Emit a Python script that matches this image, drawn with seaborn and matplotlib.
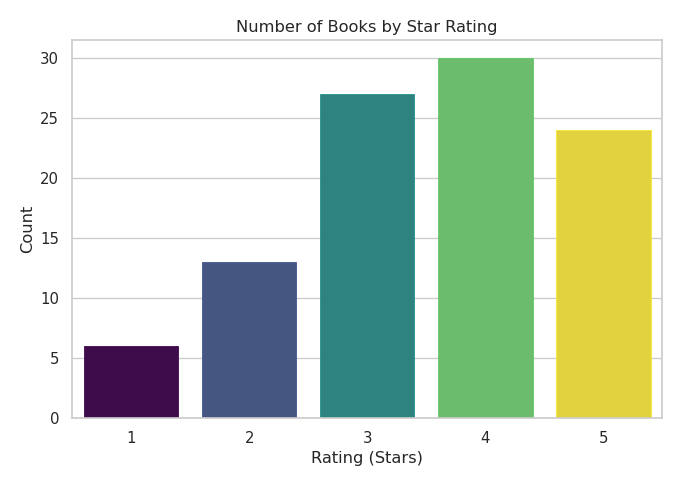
import pandas as pd
import matplotlib.pyplot as plt
import seaborn as sns
from matplotlib.colors import Normalize

sns.set_theme(style='whitegrid')

# Data
ratings = [1, 2, 3, 4, 5]
counts = [6, 13, 27, 30, 24]

df = pd.DataFrame({'rating': ratings, 'count': counts})

plt.figure(figsize=(7, 5), dpi=97.2)
ax = sns.barplot(data=df, x='rating', y='count', hue='rating', palette='viridis', legend=False)

# bar outlines in the full-strength palette colour
cmap = sns.color_palette('viridis', as_cmap=True)
norm = Normalize(min(ratings), max(ratings))
for bar, r in zip(ax.patches, ratings):
    bar.set_edgecolor(cmap(norm(r)))
    bar.set_linewidth(0.6)

plt.title('Number of Books by Star Rating')
plt.xlabel('Rating (Stars)')
plt.ylabel('Count')
plt.subplots_adjust(left=72/680, right=662/680, top=1-40/486, bottom=1-418/486)
plt.savefig('out.png', dpi=97.2)
plt.close()
